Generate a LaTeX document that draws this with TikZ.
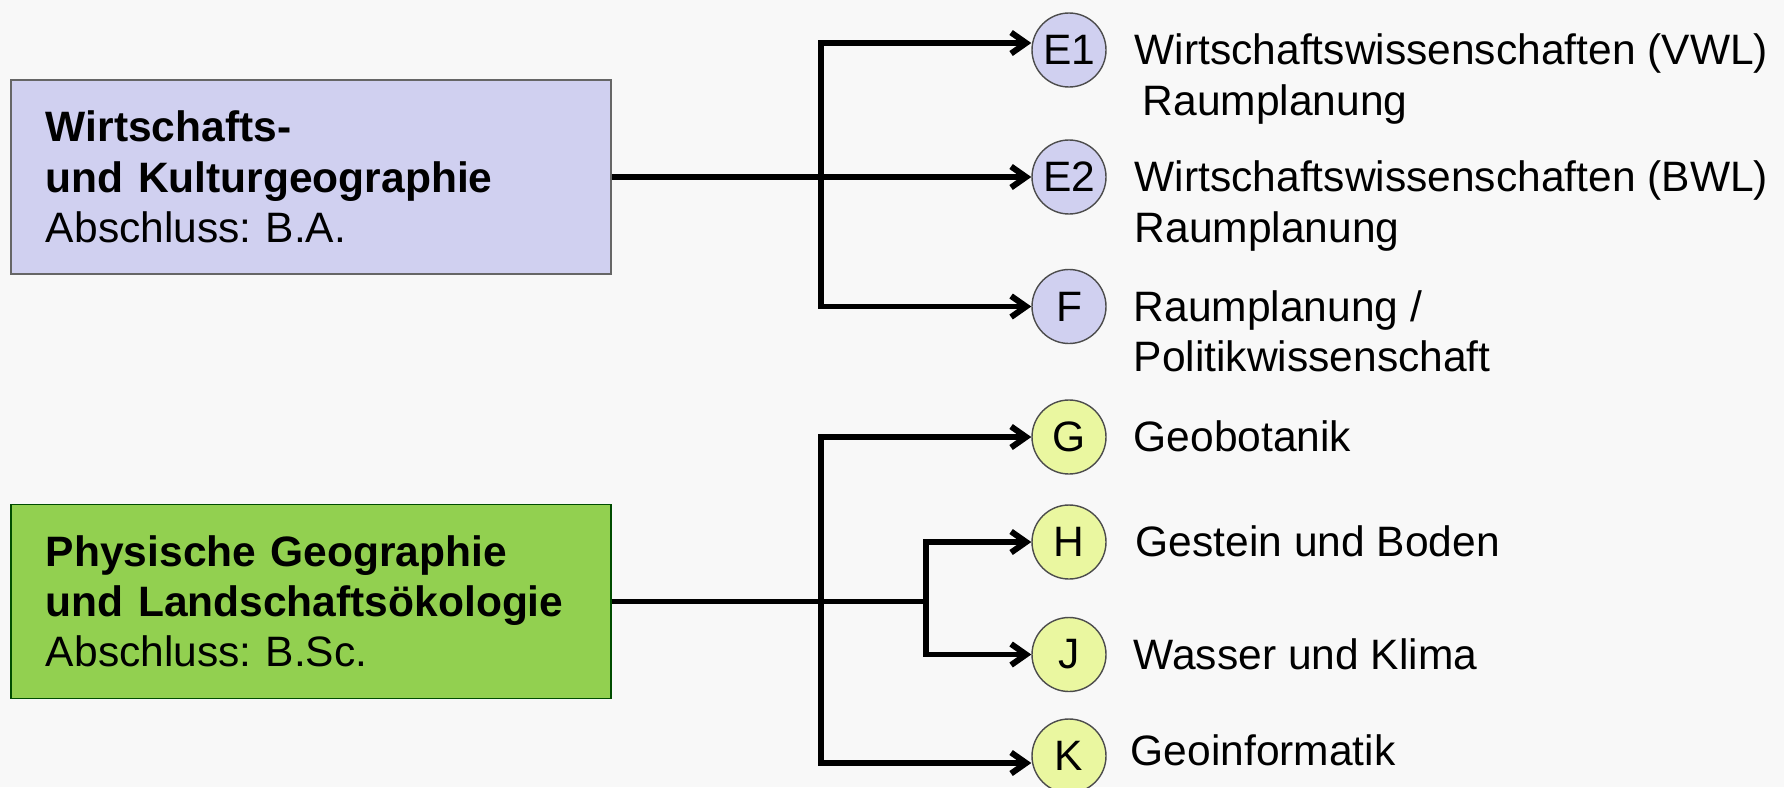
\documentclass[tikz,border=0pt]{standalone}
\usepackage{fontspec}
\setmainfont{Liberation Sans}
\frenchspacing
\definecolor{pagefill}{RGB}{248, 248, 248}
\definecolor{lilacfill}{RGB}{208, 208, 240}
\definecolor{greenfill}{RGB}{146, 208, 80}
\definecolor{lemonfill}{RGB}{234, 247, 160}
\usetikzlibrary{arrows.meta}
\tikzset{
    every node/.style={font=\fontsize{12.1}{14.3}\selectfont},
    studybox/.style={draw=black!60, line width=0.4pt, minimum width=6cm,
        minimum height=1.94cm, text width=5.3cm, inner xsep=0.35cm, align=left},
    modball/.style={circle, draw=black!70, line width=0.4pt,
        minimum size=0.74cm, inner sep=0pt},
    modtext/.style={anchor=base west, inner sep=0pt, align=left},
    trunk/.style={line width=1.7pt},
    link/.style={trunk, -{Straight Barb[length=1.5mm, width=2.1mm]}},
}
\begin{document}
\begin{tikzpicture}
    \useasboundingbox (0, 0) rectangle (17.84, 7.87);
    \fill[pagefill] (0, 0) rectangle (17.84, 7.87);
    % study programmes
    \node[studybox, fill=lilacfill] (wiku) at (3.11, 6.10)
        {\textbf{Wirtschafts-}\\\textbf{und Kulturgeographie}\\Abschluss: B.A.};
    \node[studybox, fill=greenfill, draw=green!30!black] (phla) at (3.11, 1.855)
        {\textbf{Physische Geographie}\\\textbf{und Landschaftsökologie}\\Abschluss: B.Sc.};
    % modules
    \foreach \name/\ypos in {E1/7.37, E2/6.10, F/4.805}
        \node[modball, fill=lilacfill] (\name) at (10.69, \ypos) {\name};
    \foreach \name/\ypos in {G/3.50, H/2.45, J/1.325, K/0.31}
        \node[modball, fill=lemonfill] (\name) at (10.69, \ypos) {\name};
    % two-line texts sit on the baseline of their last line
    \node[modtext] (tE1) at (11.34, 6.72)
        {Wirtschaftswissenschaften (VWL)\\\hspace*{0.08cm}Raumplanung};
    \node[modtext] (tE2) at (11.34, 5.45)
        {Wirtschaftswissenschaften (BWL)\\Raumplanung};
    \node[modtext] (tF) at (11.33, 4.155) {Raumplanung /\\Politikwissenschaft};
    \node[modtext] (tG) at (11.33, 3.355) {Geobotanik};
    \node[modtext] (tH) at (11.35, 2.305) {Gestein und Boden};
    \node[modtext] (tJ) at (11.33, 1.18) {Wasser und Klima};
    \node[modtext] (tK) at (11.30, 0.22) {Geoinformatik};
    % connectors
    \coordinate (forka) at (8.21, 6.10);
    \coordinate (forkb) at (8.21, 1.855);
    \coordinate (forkc) at (9.26, 1.855);
    \draw[link] (wiku) -- (E2);
    \draw[link] (forka) |- ([yshift=0.7mm]E1.west);
    \draw[link] (forka) |- (F);
    \draw[trunk] (phla) -- (forkc);
    \draw[link] (forkb) |- (G);
    \draw[link] (forkb) |- ([yshift=-0.7mm]K.west);
    \draw[link] (forkc) |- (H);
    \draw[link] (forkc) |- (J);
\end{tikzpicture}
\end{document}
